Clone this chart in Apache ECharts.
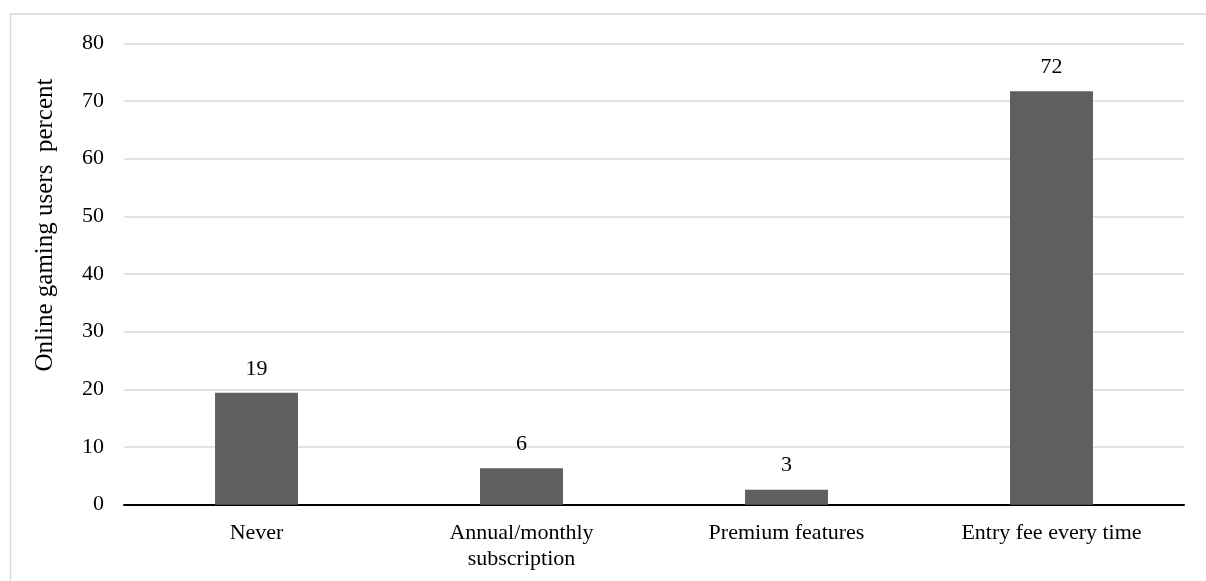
<!DOCTYPE html>
<html>
<head>
<meta charset="utf-8">
<script src="https://cdn.jsdelivr.net/npm/echarts@6/dist/echarts.min.js"></script>
<style>
html,body{margin:0;padding:0;background:#fff;}
#chart{width:1206px;height:581px;}
</style>
</head>
<body>
<div id="chart"></div>
<script>
const categories = ['Never', 'Annual/monthly\nsubscription', 'Premium features', 'Entry fee every time'];
const values = [19.4, 6.3, 2.6, 71.7];
const yTicks = { min: 0, max: 80, interval: 10 };
const yTitle = 'Online gaming users  percent';

const FONT = '"Liberation Serif", "Times New Roman", serif';
const chart = echarts.init(document.getElementById('chart'), null, { renderer: 'canvas' });
chart.setOption({
  backgroundColor: '#ffffff',
  animation: false,
  grid: { left: 124, right: 22, top: 43.3, bottom: 76.3 },
  graphic: [
    {
      type: 'rect', silent: true, z: -1,
      shape: { x: 10.5, y: 14, width: 1220, height: 600 },
      style: { fill: 'none', stroke: '#d9d9d9', lineWidth: 1.5 }
    },
    {
      type: 'text', silent: true,
      x: 45, y: 225, rotation: Math.PI / 2,
      style: {
        text: yTitle, fill: '#000', font: '25px ' + FONT,
        textAlign: 'center', textVerticalAlign: 'middle'
      }
    }
  ],
  xAxis: {
    type: 'category',
    data: categories,
    axisLine: { lineStyle: { color: '#000', width: 2 } },
    axisTick: { show: false },
    axisLabel: { color: '#000', fontFamily: FONT, fontSize: 22, margin: 16, lineHeight: 26, interval: 0 }
  },
  yAxis: {
    type: 'value',
    min: yTicks.min, max: yTicks.max, interval: yTicks.interval,
    axisLine: { show: false },
    axisTick: { show: false },
    splitLine: { lineStyle: { color: '#d9d9d9', width: 1.5 } },
    axisLabel: { color: '#000', fontFamily: FONT, fontSize: 22, margin: 20 }
  },
  series: [{
    type: 'bar',
    data: values,
    barWidth: '31.3%',
    itemStyle: { color: '#5f5f5f' },
    label: {
      show: true, position: 'top', distance: 13,
      color: '#000', fontFamily: FONT, fontSize: 22,
      formatter: p => String(Math.round(p.value))
    }
  }]
});
</script>
</body>
</html>
